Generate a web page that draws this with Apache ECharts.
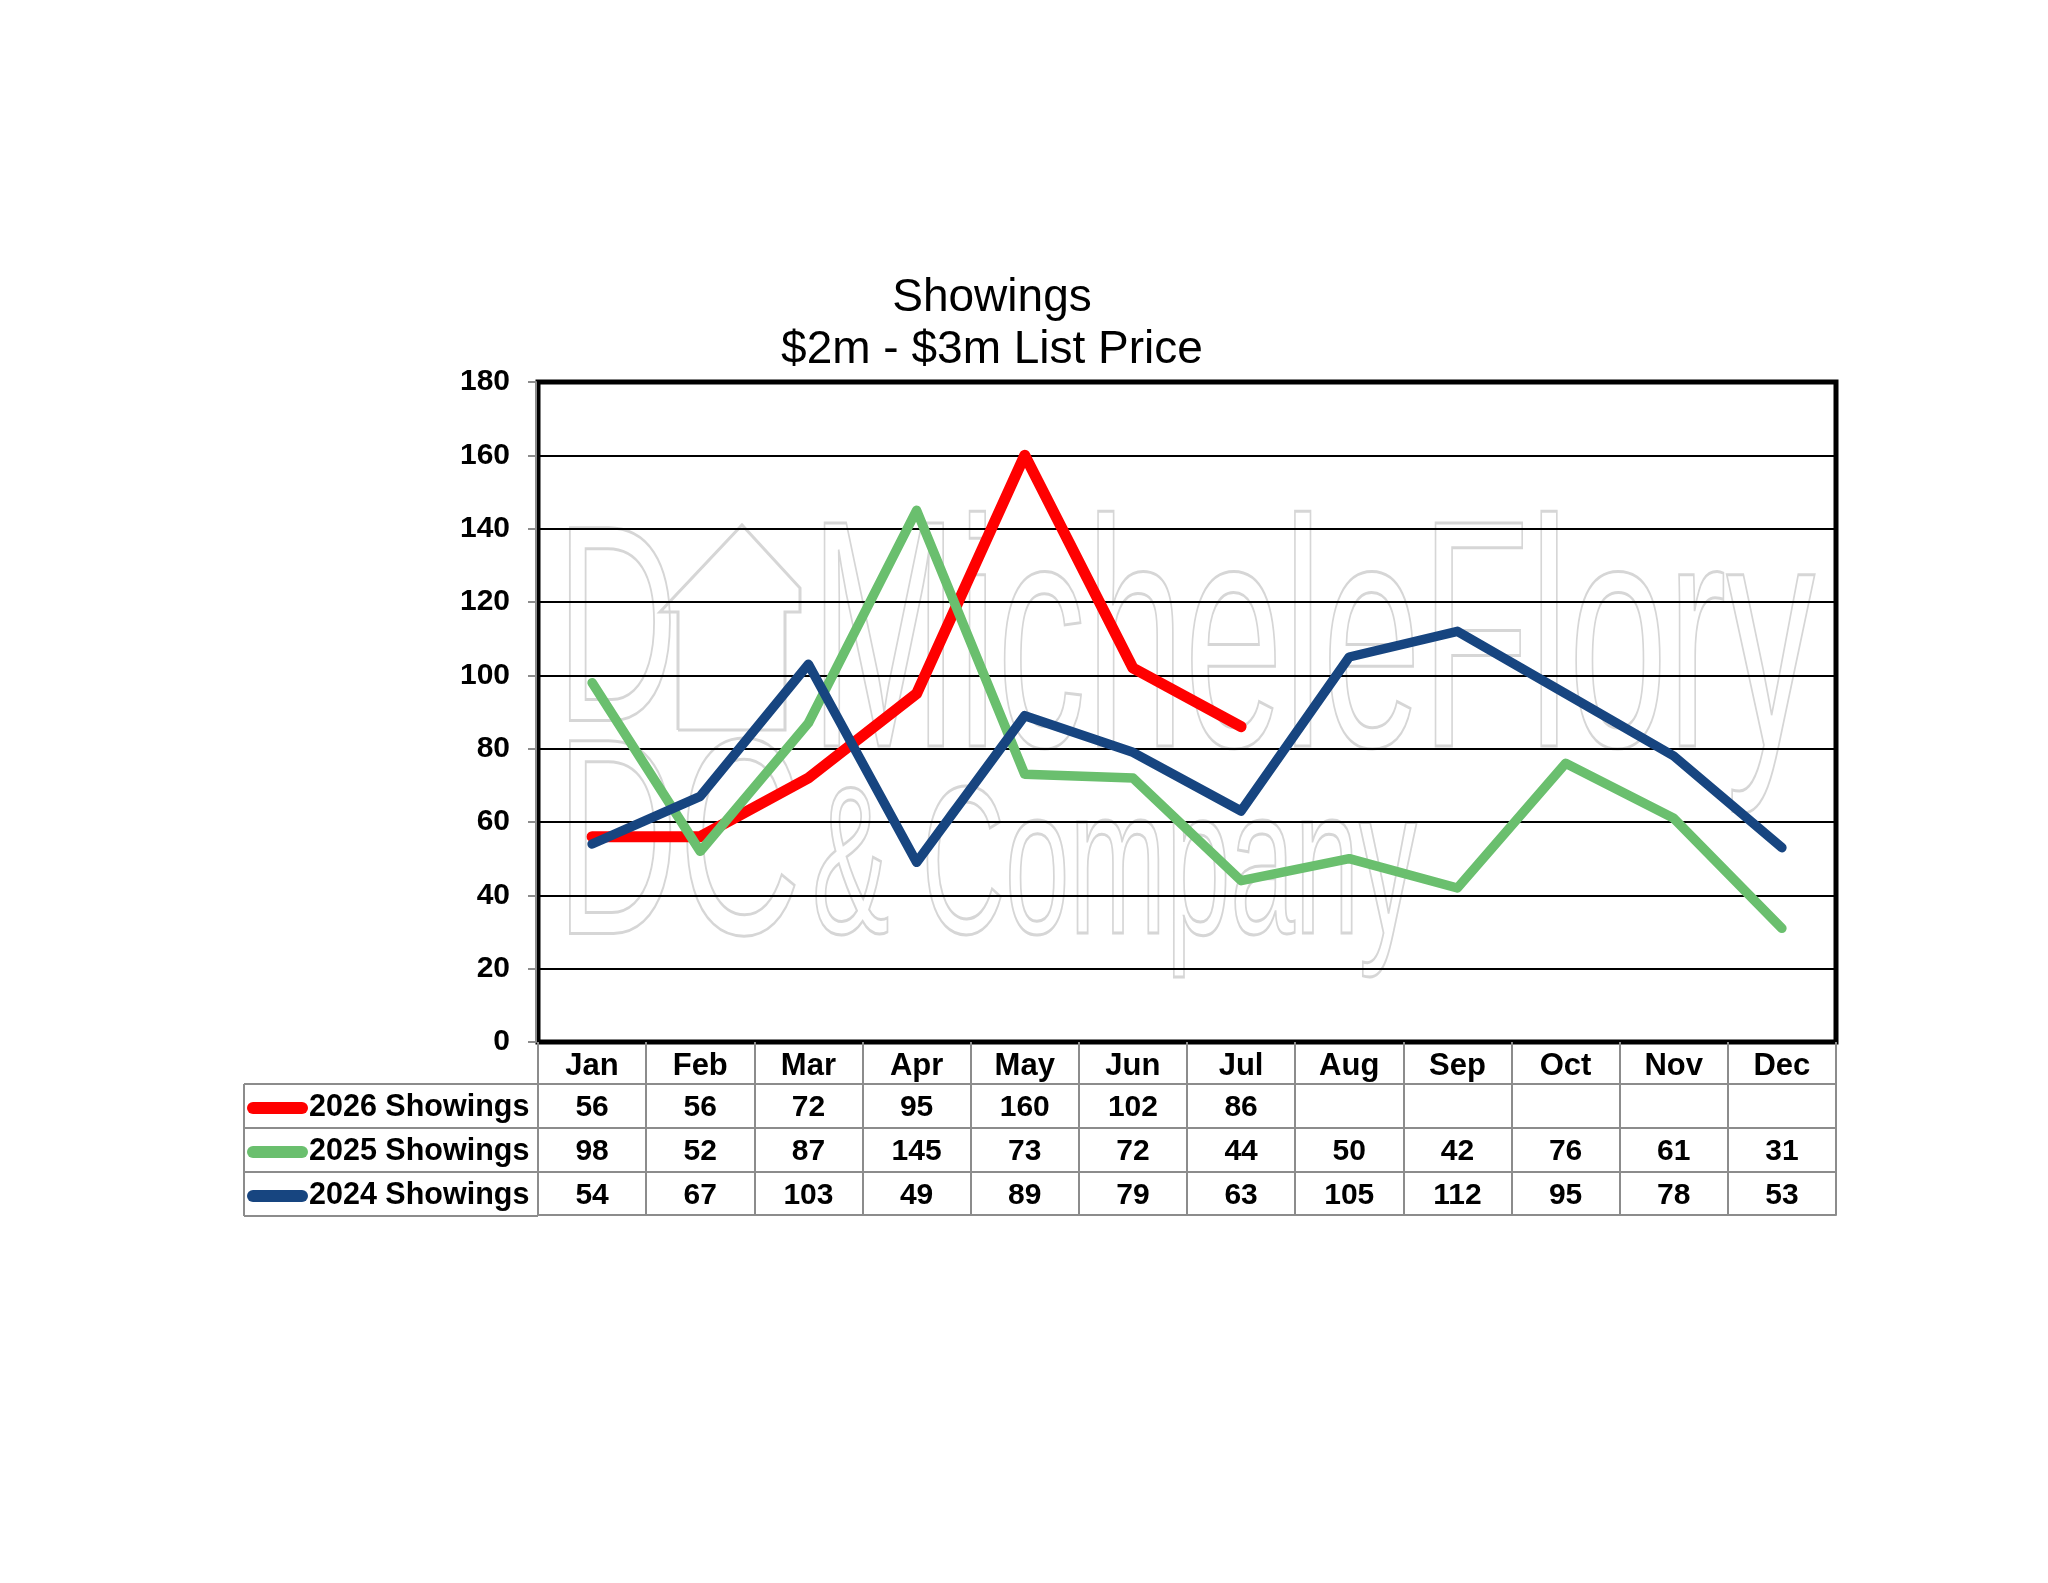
<!DOCTYPE html>
<html>
<head>
<meta charset="utf-8">
<title>Showings $2m - $3m List Price</title>
<script src="https://cdn.jsdelivr.net/npm/echarts@6/dist/echarts.min.js"></script>
<style>
    html, body {margin: 0; padding: 0; background: #ffffff;}
    #showingsChart {width: 2048px; height: 1583px;}
</style>
</head>
<body>
<div id="showingsChart"></div>
<script>
const months = ['Jan', 'Feb', 'Mar', 'Apr', 'May', 'Jun', 'Jul', 'Aug', 'Sep', 'Oct', 'Nov', 'Dec'];
const showings2026 = [56, 56, 72, 95, 160, 102, 86];
const showings2025 = [98, 52, 87, 145, 73, 72, 44, 50, 42, 76, 61, 31];
const showings2024 = [54, 67, 103, 49, 89, 79, 63, 105, 112, 95, 78, 53];
const yTicks = [0, 20, 40, 60, 80, 100, 120, 140, 160, 180];

const FONT = 'Liberation Sans';
const gridLeft = 538, gridTop = 382, gridRight = 212, gridBottom = 541;
const tableLeft = 244, rowH = 44, headH = 42;
const gridBottomY = 1583 - gridBottom;

// table rows: padded to twelve cells so every column gets its label
function rowCells(values) {
    return months.map(function (m, i) {
        return values[i] === undefined ? '' : String(values[i]);
    });
}

function fitScale(text, font, width) {
    const ctx = document.createElement('canvas').getContext('2d');
    ctx.font = font;
    return width / ctx.measureText(text).width;
}

const myChart = echarts.init(document.getElementById('showingsChart'));

const gray = '#8c8c8c';
const labelStyle = {
    color: '#000',
    fontFamily: FONT,
    fontWeight: 'bold',
    fontSize: 30
};

function tableAxis(data, offset, tickLen) {
    return {
        type: 'category',
        data: data,
        position: 'bottom',
        offset: offset,
        boundaryGap: true,
        axisLine: {show: true, onZero: false, lineStyle: {color: gray, width: 2}},
        axisTick: {show: tickLen > 0, interval: 0, length: tickLen, lineStyle: {color: gray, width: 2}},
        axisLabel: Object.assign({interval: 0, margin: rowH / 2 + 2, verticalAlign: 'middle', show: tickLen > 0}, labelStyle),
        splitLine: {show: false}
    };
}

// watermark pieces
const wmFont1 = '324px "' + FONT + '"';
const wmFont2 = '210px "' + FONT + '"';
const wmFont3 = '280px "' + FONT + '"';
const wmStyle = {fill: 'none', stroke: '#d6d6d6', lineWidth: 3};

const legendLines = [];
for (let i = 0; i < 4; i++) {
    legendLines.push({
        type: 'line',
        shape: {x1: tableLeft, y1: gridBottomY + headH + i * rowH, x2: gridLeft, y2: gridBottomY + headH + i * rowH},
        style: {stroke: gray, lineWidth: 2}
    });
}
legendLines.push({
    type: 'line',
    shape: {x1: tableLeft, y1: gridBottomY + headH, x2: tableLeft, y2: gridBottomY + headH + 3 * rowH},
    style: {stroke: gray, lineWidth: 2}
});

const option = {
    backgroundColor: '#ffffff',
    animation: false,
    title: {
        text: 'Showings\n$2m - $3m List Price',
        left: 992,
        top: 272,
        padding: 0,
        textAlign: 'center',
        textStyle: {
            fontFamily: FONT,
            fontWeight: 'normal',
            fontSize: 46,
            lineHeight: 52,
            color: '#000'
        }
    },
    legend: {
        orient: 'vertical',
        left: 247,
        top: gridBottomY + headH + 2,
        padding: 0,
        itemGap: 0,
        itemWidth: 61,
        itemHeight: 12,
        selectedMode: false,
        icon: 'path://M6,0 H55 A6,6 0 0 1 55,12 H6 A6,6 0 0 1 6,0 Z',
        textStyle: Object.assign({}, labelStyle, {fontSize: 30.5, lineHeight: rowH, padding: [0, 0, 0, -4]}),
        data: ['2026 Showings', '2025 Showings', '2024 Showings']
    },
    grid: {
        left: gridLeft,
        top: gridTop,
        right: gridRight,
        bottom: gridBottom,
        show: true,
        borderColor: '#000',
        borderWidth: 5,
        backgroundColor: 'transparent'
    },
    xAxis: [
        {
            type: 'category',
            data: months,
            position: 'bottom',
            boundaryGap: true,
            axisLine: {show: false},
            axisTick: {show: true, interval: 0, length: headH, lineStyle: {color: gray, width: 2}},
            axisLabel: Object.assign({interval: 0, margin: headH / 2 + 3, verticalAlign: 'middle'}, labelStyle, {fontSize: 31}),
            splitLine: {show: false}
        },
        tableAxis(rowCells(showings2026), headH, rowH),
        tableAxis(rowCells(showings2025), headH + rowH, rowH),
        tableAxis(rowCells(showings2024), headH + 2 * rowH, rowH - 1),
        tableAxis(rowCells([]), headH + 3 * rowH - 1, 0)
    ],
    yAxis: {
        type: 'value',
        min: yTicks[0],
        max: yTicks[yTicks.length - 1],
        interval: 20,
        offset: 2,
        axisLine: {show: true, lineStyle: {color: gray, width: 2}},
        axisTick: {show: true, length: 8, lineStyle: {color: gray, width: 2}},
        axisLabel: {
            margin: 26,
            color: '#000',
            fontFamily: FONT,
            fontWeight: 'bold',
            fontSize: 30
        },
        splitLine: {show: true, lineStyle: {color: '#000', width: 2}}
    },
    graphic: {
        elements: [
            {
                type: 'text', z: -1, silent: true, x: 810, y: 757 - 0.31 * 324,
                scaleX: fitScale('MicheleFlory', wmFont1, 1005),
                style: Object.assign({text: 'MicheleFlory', font: wmFont1, verticalAlign: 'middle'}, wmStyle)
            },
            {
                type: 'text', z: -1, silent: true, x: 812, y: 940 - 0.31 * 210,
                scaleX: fitScale('& Company', wmFont2, 605),
                style: Object.assign({text: '& Company', font: wmFont2, verticalAlign: 'middle'}, wmStyle)
            },
            {
                type: 'text', z: -1, silent: true, x: 556, y: 730 - 0.31 * 280,
                scaleX: fitScale('D', wmFont3, 122),
                style: Object.assign({text: 'D', font: wmFont3, verticalAlign: 'middle'}, wmStyle)
            },
            {
                type: 'polyline', z: -1, silent: true,
                shape: {points: [[678, 730], [678, 612], [660, 612], [742, 525], [800, 588], [800, 612], [785, 612], [785, 730], [678, 730]]},
                style: {fill: 'none', stroke: '#d6d6d6', lineWidth: 3}
            },
            {
                type: 'text', z: -1, silent: true, x: 556, y: 943 - 0.31 * 280,
                scaleX: fitScale('DC', wmFont3, 245),
                style: Object.assign({text: 'DC', font: wmFont3, verticalAlign: 'middle'}, wmStyle)
            }
        ].concat(legendLines)
    },
    series: [
        {
            name: '2026 Showings',
            type: 'line',
            data: showings2026,
            symbol: 'none',
            color: '#ff0000',
            lineStyle: {width: 11, color: '#ff0000', cap: 'round', join: 'round'}
        },
        {
            name: '2025 Showings',
            type: 'line',
            data: showings2025,
            symbol: 'none',
            color: '#6abf6e',
            lineStyle: {width: 9.5, color: '#6abf6e', cap: 'round', join: 'round'}
        },
        {
            name: '2024 Showings',
            type: 'line',
            data: showings2024,
            symbol: 'none',
            color: '#174580',
            lineStyle: {width: 9.5, color: '#174580', cap: 'round', join: 'round'}
        }
    ]
};

myChart.setOption(option);
window.onresize = myChart.resize;
</script>
</body>
</html>
